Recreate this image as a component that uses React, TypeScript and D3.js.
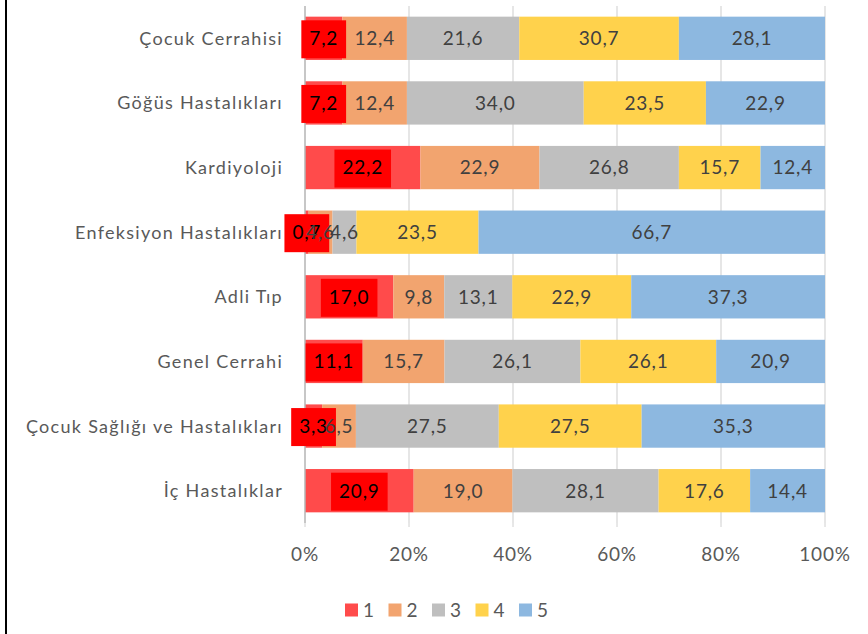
import { useEffect, useRef } from "react";
import * as d3 from "d3";

const categories = [
  "Çocuk Cerrahisi",
  "Göğüs Hastalıkları",
  "Kardiyoloji",
  "Enfeksiyon Hastalıkları",
  "Adli Tıp",
  "Genel Cerrahi",
  "Çocuk Sağlığı ve Hastalıkları",
  "İç Hastalıklar",
];

const seriesNames = ["1", "2", "3", "4", "5"];

const s1 = [7.2, 7.2, 22.2, 0.7, 17.0, 11.1, 3.3, 20.9];
const s2 = [12.4, 12.4, 22.9, 4.6, 9.8, 15.7, 6.5, 19.0];
const s3 = [21.6, 34.0, 26.8, 4.6, 13.1, 26.1, 27.5, 28.1];
const s4 = [30.7, 23.5, 15.7, 23.5, 22.9, 26.1, 27.5, 17.6];
const s5 = [28.1, 22.9, 12.4, 66.7, 37.3, 20.9, 35.3, 14.4];

const xTicks = [0, 0.2, 0.4, 0.6, 0.8, 1];

const colors = ["#FF4B4B", "#F2A46F", "#BFBFBF", "#FFD24C", "#8DB8E0"];

export default function App() {
  const svgRef = useRef<SVGSVGElement | null>(null);
  const width = 868;
  const height = 634;

  useEffect(() => {
    if (!svgRef.current) return;
    const svg = d3.select(svgRef.current);
    svg.selectAll("*").remove();

    const font = "Lato, 'Open Sans', sans-serif";
    const values = [s1, s2, s3, s4, s5];
    const rows = categories.map((c, i) => {
      const r: any = { cat: c };
      seriesNames.forEach((s, j) => (r[s] = values[j][i]));
      return r;
    });
    // normalise each row to 100%
    const stack = d3
      .stack<any>()
      .keys(seriesNames)
      .offset(d3.stackOffsetExpand);
    const stacked = stack(rows);

    const x = d3.scaleLinear().domain([0, 1]).range([305, 825]);
    const y = d3
      .scaleBand<string>()
      .domain(categories)
      .range([6, 523])
      .paddingInner(0.33)
      .paddingOuter(0.165);

    // left frame line
    svg
      .append("line")
      .attr("x1", 6)
      .attr("x2", 6)
      .attr("y1", 0)
      .attr("y2", height)
      .attr("stroke", "#000")
      .attr("stroke-width", 2);

    // gridlines
    svg
      .append("g")
      .selectAll("line")
      .data(xTicks.slice(1))
      .enter()
      .append("line")
      .attr("x1", (d) => x(d))
      .attr("x2", (d) => x(d))
      .attr("y1", 6)
      .attr("y2", 523)
      .attr("stroke", "#dedede")
      .attr("stroke-width", 1.5);

    const layers = svg
      .append("g")
      .selectAll("g")
      .data(stacked)
      .enter()
      .append("g")
      .attr("fill", (_, i) => colors[i]);

    layers
      .selectAll("rect")
      .data((d) => d)
      .enter()
      .append("rect")
      .attr("x", (d) => x(d[0]))
      .attr("width", (d) => x(d[1]) - x(d[0]))
      .attr("y", (d) => y(d.data.cat)!)
      .attr("height", y.bandwidth());

    // axis line at 0%
    svg
      .append("line")
      .attr("x1", x(0))
      .attr("x2", x(0))
      .attr("y1", 6)
      .attr("y2", 523)
      .attr("stroke", "#b5b5b5")
      .attr("stroke-width", 1.5);

    // value labels
    const labels = svg
      .append("g")
      .attr("font-family", font)
      .attr("font-size", 19)
      .attr("letter-spacing", 0.8);
    stacked.forEach((layer, i) => {
      layer.forEach((d, k) => {
        const cx = (x(d[0]) + x(d[1])) / 2;
        const cy = y(d.data.cat)! + y.bandwidth() / 2;
        const txt = d3.format(".1f")(values[i][k]).replace(".", ",");
        const g = labels.append("g");
        const t = g
          .append("text")
          .attr("x", cx)
          .attr("y", cy)
          .attr("dy", "0.36em")
          .attr("text-anchor", "middle")
          .attr("fill", i === 0 ? "#000" : "#404040")
          .text(txt);
        if (i === 0) {
          const w = (t.node() as SVGTextElement).getComputedTextLength();
          g.insert("rect", "text")
            .attr("x", cx - w / 2 - 8)
            .attr("y", cy - 18)
            .attr("width", w + 16)
            .attr("height", 38)
            .attr("fill", "#FF0000");
        }
      });
    });

    // category labels
    svg
      .append("g")
      .selectAll("text")
      .data(categories)
      .enter()
      .append("text")
      .attr("x", 283)
      .attr("y", (d) => y(d)! + y.bandwidth() / 2)
      .attr("dy", "0.36em")
      .attr("text-anchor", "end")
      .attr("font-family", font)
      .attr("font-size", 18)
      .attr("letter-spacing", 1.3)
      .attr("fill", "#595959")
      .text((d) => d);

    // x tick marks and labels
    svg
      .append("g")
      .selectAll("line")
      .data(xTicks)
      .enter()
      .append("line")
      .attr("x1", (d) => x(d))
      .attr("x2", (d) => x(d))
      .attr("y1", 523)
      .attr("y2", 527)
      .attr("stroke", "#d0d0d0");

    svg
      .append("g")
      .selectAll("text")
      .data(xTicks)
      .enter()
      .append("text")
      .attr("x", (d) => x(d))
      .attr("y", 554)
      .attr("dy", "0.36em")
      .attr("text-anchor", "middle")
      .attr("font-family", font)
      .attr("font-size", 19)
      .attr("letter-spacing", 0.8)
      .attr("fill", "#595959")
      .text((d) => d3.format(".0%")(d));

    // legend
    const legend = svg
      .append("g")
      .selectAll("g")
      .data(seriesNames)
      .enter()
      .append("g")
      .attr("transform", (_, i) => `translate(${345 + i * 43.5}, 610)`);
    legend
      .append("rect")
      .attr("x", 0)
      .attr("y", -6.5)
      .attr("width", 13)
      .attr("height", 13)
      .attr("fill", (_, i) => colors[i]);
    legend
      .append("text")
      .attr("x", 18)
      .attr("y", 0)
      .attr("dy", "0.36em")
      .attr("font-family", font)
      .attr("font-size", 19)
      .attr("fill", "#595959")
      .text((d) => d);
  }, []);

  return (
    <div style={{ position: "absolute", left: 0, top: 0 }}>
      <svg ref={svgRef} width={width} height={height}></svg>
    </div>
  );
}
